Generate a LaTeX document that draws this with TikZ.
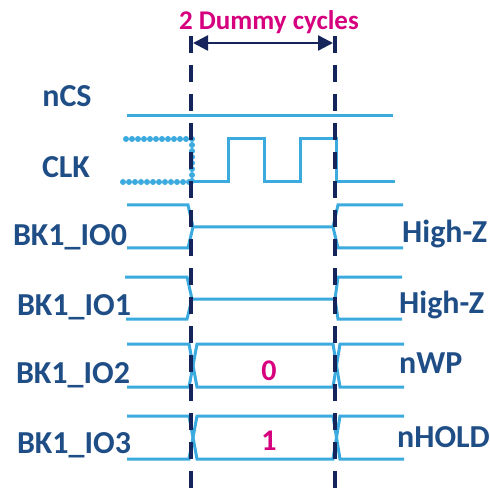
\documentclass[tikz,border=0pt]{standalone}
\usepackage{fontspec}
\setmainfont{Carlito}
\definecolor{sigblue}{RGB}{59,170,222}
\definecolor{markblue}{RGB}{22,36,92}
\definecolor{txtblue}{RGB}{31,78,135}
\definecolor{mymagenta}{RGB}{214,0,127}
\usetikzlibrary{arrows.meta}

\begin{document}
\begin{tikzpicture}[x=1pt,y=-1pt,
    every node/.style={inner sep=0pt,font=\bfseries\fontsize{32}{38}\selectfont},
    signame/.style={text=txtblue,anchor=base},
    sigstate/.style={text=txtblue,anchor=base west},
    val/.style={text=mymagenta,anchor=base,font=\bfseries\fontsize{27}{32}\selectfont},
    sig/.style={draw=sigblue,line width=3pt},
    clkdots/.style={draw=sigblue,line width=6pt,line cap=round,dash pattern=on 0pt off 6pt},
    marker/.style={draw=markblue,line width=4.5pt,dash pattern=on 17pt off 12pt}
    ]
    \useasboundingbox (0,0) rectangle (490,489);

    % the signal names
    \node (ncs) [signame] at (67,107) {nCS};
    \node (clk) [signame] at (66,178) {CLK};
    \node (io0) [signame] at (70,245) {BK1\_IO0};
    \node (io1) [signame] at (74,315) {BK1\_IO1};
    \node (io2) [signame] at (73,383) {BK1\_IO2};
    \node (io3) [signame] at (74,453) {BK1\_IO3};

    % the states after the dummy cycles
    \node (hz0) [sigstate] at (402,243) {High-Z};
    \node (hz1) [sigstate] at (399,313) {High-Z};
    \node (nwp) [sigstate] at (399,373) {nWP};
    \node (nhold) [sigstate] at (397,447) {nHOLD};

    \node (title) [val] at (269,30) {2 Dummy cycles};
    \node (val0) [val,font=\bfseries\fontsize{30}{36}\selectfont] at (269,380) {0};
    \node (val1) [val,font=\bfseries\fontsize{30}{36}\selectfont] at (269,450) {1};

    % the waveforms
    \draw [sig] (127,116) -- (393,116);
    \draw [clkdots] (126,139) -- (192,139) -- (192,182);
    \draw [clkdots] (123,182) -- (192,182);
    \draw [sig] (191,182) -- (228,182) -- (228,139) -- (264,139) -- (264,182)
        -- (300,182) -- (300,139) -- (336,139) -- (336,182) -- (395,182);

    \draw [sig] (127,205) -- (188,205) -- (193,227) -- (333,227) -- (338,205) -- (403,205);
    \draw [sig] (127,248) -- (188,248) -- (193,227);
    \draw [sig] (333,227) -- (338,248) -- (403,248);

    \draw [sig] (125,277) -- (187,277) -- (192,299) -- (335,299) -- (338,277) -- (402,277);
    \draw [sig] (126,319) -- (187,319) -- (192,299);
    \draw [sig] (335,299) -- (338,319) -- (402,319);

    \foreach \yt/\yb in {344/387,416/459} {
        \draw [sig] (127,\yt) -- (189,\yt) -- (197,\yb) -- (333,\yb) -- (340,\yt) -- (404,\yt);
        \draw [sig] (127,\yb) -- (189,\yb) -- (197,\yt) -- (333,\yt) -- (340,\yb) -- (404,\yb);
    }

    % the markers
    \coordinate (mla) at (191,36);
    \coordinate (mlb) at (191,489);
    \coordinate (mra) at (335,36);
    \coordinate (mrb) at (335,489);
    \coordinate (ta) at (193,43);
    \coordinate (tb) at (333,43);
    \draw [marker] (mla) -- (mlb);
    \draw [marker] (mra) -- (mrb);
    \draw [draw=markblue,line width=2.5pt,
        {Triangle[length=15pt,width=15pt]}-{Triangle[length=15pt,width=15pt]}] (ta) -- (tb);
\end{tikzpicture}
\end{document}
